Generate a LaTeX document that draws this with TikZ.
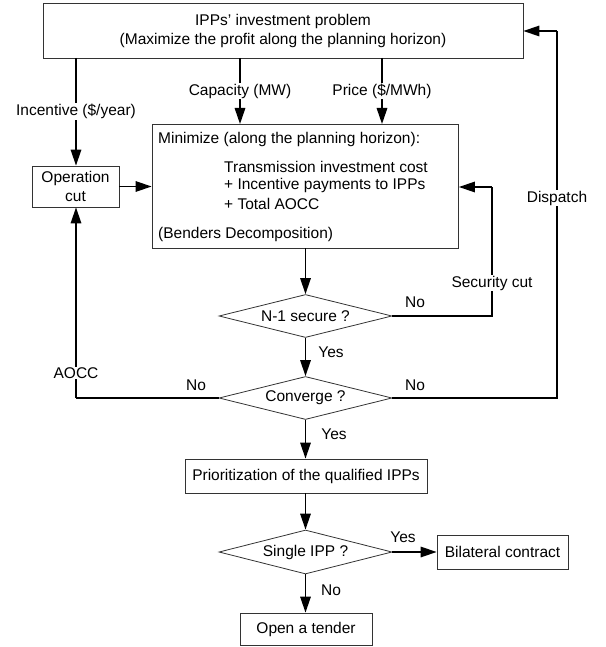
\documentclass[tikz,border=0pt]{standalone}
\usepackage{fontspec}
\setmainfont{Liberation Sans}
\usetikzlibrary{arrows.meta,shapes.geometric}
\newcommand\dfont{\fontsize{15.5}{18.5}\selectfont}
\tikzset{
  box/.style={draw=black!80, line width=0.8pt, rectangle, inner sep=0pt, align=center, font=\dfont},
  dia/.style={draw=black!80, line width=0.8pt, diamond, aspect=4, inner sep=0pt, font=\dfont, minimum width=173pt, minimum height=43pt},
  conn/.style={line width=1.6pt, -{Triangle[length=16pt,width=10.5pt]}},
  line/.style={line width=1.6pt},
  lab/.style={font=\dfont, inner sep=1pt},
  wlab/.style={font=\dfont, fill=white, inner sep=1pt},
  txt/.style={font=\dfont, inner sep=0pt, anchor=west},
}
\begin{document}
\begin{tikzpicture}[x=1pt,y=-1pt]
\useasboundingbox (0,0) rectangle (605,647);
% nodes
\node[box, minimum width=480pt, minimum height=55pt] (top) at (283,30.5) {IPPs’ investment problem\\[0.5pt](Maximize the profit along the planning horizon)};
\node[box, minimum width=87pt, minimum height=41pt] (opcut) at (75.5,186.5) {Operation\\cut};
\node[box, minimum width=306.5pt, minimum height=124pt] (mini) at (305.25,186) {};
\node[txt] (t1) at (158,139) {Minimize (along the planning horizon):};
\node[txt] (t2) at (224,167) {Transmission investment cost};
\node[txt] (t3) at (224,185.5) {+ Incentive payments to IPPs};
\node[txt] (t4) at (224,204) {+ Total AOCC};
\node[txt] (t5) at (158,234) {(Benders Decomposition)};
\node[dia] (n1) at (305.5,316) {N-1 secure ?};
\node[dia] (conv) at (305.5,398) {Converge ?};
\node[box, minimum width=242pt, minimum height=34pt] (prio) at (306,476) {Prioritization of the qualified IPPs};
\node[dia, minimum height=44pt] (single) at (305.5,552) {Single IPP ?};
\node[box, minimum width=131pt, minimum height=34pt] (bil) at (502.5,552) {Bilateral contract};
\node[box, minimum width=132pt, minimum height=32pt] (tender) at (306,629) {Open a tender};
% helper coordinates
\coordinate (incT) at (76,58);
\coordinate (capT) at (240,58);
\coordinate (capB) at (240,124);
\coordinate (priT) at (382,58);
\coordinate (priB) at (382,124);
\coordinate (secc) at (492,187);
\coordinate (aocc) at (76,398);
\coordinate (dispB) at (557,398);
\coordinate (dispT) at (557,31);
% connectors
\draw[conn] (incT) -- node[wlab] (linc) {Incentive (\$/year)} (incT |- opcut.north);
\draw[conn] (capT) -- node[wlab] (lcap) {Capacity (MW)} (capB);
\draw[conn] (priT) -- node[wlab] (lpri) {Price (\$/MWh)} (priB);
\draw[conn] (opcut.east) -- (opcut.east -| mini.west);
\draw[conn] (mini.south -| n1.north) -- (n1.north);
\draw[line] (n1.east) -| (secc);
\draw[conn] (secc) -- (secc -| mini.east);
\node[wlab] (lsec) at (492,283) {Security cut};
\node[lab] (lno1) at (415,302) {No};
\draw[conn] (n1.south) -- (conv.north);
\node[lab] (lyes1) at (331,352) {Yes};
\draw[line] (conv.west) -- (aocc);
\draw[conn] (aocc) -- (aocc |- opcut.south);
\node[wlab] (laocc) at (76,373) {AOCC};
\node[lab] (lno2) at (196,385) {No};
\draw[line] (conv.east) -- (dispB) -- (dispT);
\draw[conn] (dispT) -- (dispT -| top.east);
\node[wlab] (ldisp) at (557,198) {Dispatch};
\node[lab] (lno3) at (415,385) {No};
\draw[conn] (conv.south) -- (conv.south |- prio.north);
\node[lab] (lyes2) at (334,434) {Yes};
\draw[conn] (prio.south -| single.north) -- (single.north);
\draw[conn] (single.east) -- (bil.west);
\node[lab] (lyes3) at (403,537) {Yes};
\draw[conn] (single.south) -- (single.south |- tender.north);
\node[lab] (lno4) at (331,590) {No};
\end{tikzpicture}
\end{document}
